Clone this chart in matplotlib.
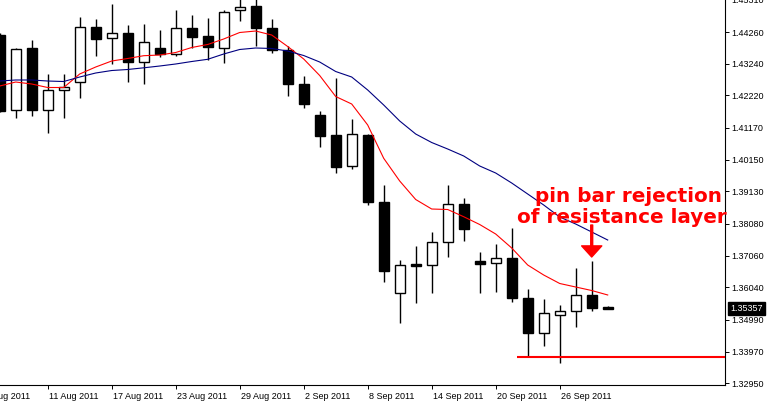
import matplotlib
matplotlib.use("Agg")
import matplotlib.pyplot as plt
from matplotlib.transforms import blended_transform_factory, ScaledTranslation

# ---------------- data (daily EURUSD-style candles) ----------------
opens = [1.44163, 1.41748, 1.43745, 1.41748, 1.42392, 1.42650, 1.44421, 1.44067,
         1.44228, 1.43294, 1.43745, 1.43552, 1.44389, 1.44131, 1.43745, 1.44968,
         1.45097, 1.44389, 1.43680, 1.42586, 1.41587, 1.40943, 1.39945, 1.40943,
         1.38796, 1.35846, 1.36780, 1.36748, 1.37489, 1.38722, 1.36886, 1.36812,
         1.36973, 1.35685, 1.34558, 1.35138, 1.35286, 1.35791, 1.35415]
highs = [1.44228, 1.43745, 1.44002, 1.42908, 1.42908, 1.44743, 1.44679, 1.45162,
         1.44485, 1.44518, 1.44324, 1.44968, 1.44807, 1.44711, 1.44968, 1.45355,
         1.45386, 1.44679, 1.43809, 1.42843, 1.41716, 1.42779, 1.41459, 1.40976,
         1.39333, 1.36918, 1.37369, 1.37820, 1.39333, 1.38905, 1.37176, 1.37434,
         1.37939, 1.35975, 1.35653, 1.35469, 1.36670, 1.36886, 1.35447]
lows = [1.41684, 1.41491, 1.41555, 1.41008, 1.41491, 1.42135, 1.43487, 1.43230,
        1.42650, 1.42586, 1.43455, 1.43487, 1.43745, 1.43358, 1.43262, 1.44614,
        1.43809, 1.43584, 1.42199, 1.41813, 1.40557, 1.39720, 1.39849, 1.38689,
        1.36220, 1.34899, 1.35543, 1.35866, 1.37005, 1.37521, 1.35846, 1.35898,
        1.35576, 1.33805, 1.34159, 1.33592, 1.34751, 1.35286, 1.35331]
closes = [1.41726, 1.43713, 1.41748, 1.42392, 1.42489, 1.44421, 1.44035, 1.44228,
          1.43294, 1.43938, 1.43552, 1.44389, 1.44099, 1.43777, 1.44904, 1.45065,
          1.44389, 1.43680, 1.42586, 1.41942, 1.40911, 1.39913, 1.40976, 1.38786,
          1.36574, 1.36748, 1.36735, 1.37489, 1.38712, 1.37926, 1.36780, 1.36973,
          1.35685, 1.34558, 1.35202, 1.35286, 1.35791, 1.35382, 1.35357]

ma_fast = [1.42521, 1.42650, 1.42586, 1.42473, 1.42473, 1.42908, 1.43133, 1.43326,
           1.43407, 1.43497, 1.43519, 1.43600, 1.43761, 1.43858, 1.44035, 1.44244,
           1.44292, 1.44163, 1.43793, 1.43391, 1.42859, 1.42183, 1.41942, 1.41266,
           1.40194, 1.39463, 1.38867, 1.38561, 1.38545, 1.38313, 1.38062, 1.37756,
           1.37306, 1.36758, 1.36436, 1.36163, 1.36050, 1.35937, 1.35793]
ma_slow = [1.42682, 1.42715, 1.42715, 1.42682, 1.42666, 1.42811, 1.42940, 1.43020,
           1.43053, 1.43107, 1.43165, 1.43230, 1.43310, 1.43381, 1.43552, 1.43697,
           1.43745, 1.43729, 1.43648, 1.43503, 1.43294, 1.42988, 1.42811, 1.42393,
           1.41910, 1.41395, 1.40976, 1.40702, 1.40493, 1.40268, 1.39946, 1.39720,
           1.39398, 1.39044, 1.38690, 1.38304, 1.38078, 1.37821, 1.37563]

ytick_values = [1.45310, 1.44260, 1.43240, 1.42220, 1.41170, 1.40150, 1.39130,
                1.38080, 1.37060, 1.36040, 1.34990, 1.33970, 1.32950]
date_labels = ["5 Aug 2011", "11 Aug 2011", "17 Aug 2011", "23 Aug 2011", "29 Aug 2011",
               "2 Sep 2011", "8 Sep 2011", "14 Sep 2011", "20 Sep 2011", "26 Sep 2011"]
date_idx = [-1, 3, 7, 11, 15, 19, 23, 27, 31, 35]

support_level = 1.33805
support_start = 32.3
pin_idx = 37
last_price = 1.35357
note_lines = ["pin bar rejection", "of resistance layer"]

# ---------------- figure ----------------
plt.rcParams['font.family'] = ['Liberation Sans', 'DejaVu Sans']
fig = plt.figure(figsize=(7.67, 4.03), dpi=100)
ax = fig.add_axes([0, 18 / 403, 725 / 767, 388 / 403])
ax.set_xlim(0.02, 45.33)
ax.set_ylim(1.32895, 1.45387)

n = len(opens)
xs = list(range(n))

# wicks
ax.vlines(xs, lows, highs, color='black', linewidth=1.0, zorder=2)
# bodies
for i in xs:
    o, c = opens[i], closes[i]
    bull = c >= o
    ax.bar(i, abs(c - o), bottom=min(o, c), width=0.62,
           color='white' if bull else 'black', edgecolor='black',
           linewidth=1.0, zorder=3)

# moving averages
ax.plot(xs, ma_fast, color='#ff0000', linewidth=0.8, zorder=4)
ax.plot(xs, ma_slow, color='#000080', linewidth=0.8, zorder=4)

# support line
ax.hlines(support_level, support_start, 45.33, color='#ff0000', linewidth=1.5, zorder=5)

# pin-bar arrow
ax.annotate('', xy=(pin_idx, highs[pin_idx] + 0.0013), xytext=(pin_idx, highs[pin_idx] + 0.0116),
            arrowprops=dict(facecolor='#ff0000', edgecolor='#ff0000', width=1.4,
                            headwidth=14.5, headlength=8, shrink=0), zorder=6)

ax.text(39.3, 1.38777, note_lines[0], color='#ff0000', fontsize=14.4, fontweight='bold',
        family='DejaVu Sans', ha='center', va='baseline', zorder=7, clip_on=False)
ax.text(38.9, 1.38101, note_lines[1], color='#ff0000', fontsize=14.4, fontweight='bold',
        family='DejaVu Sans', ha='center', va='baseline', zorder=7, clip_on=False)

# spines
for s in ['top', 'left']:
    ax.spines[s].set_visible(False)
for s in ['right', 'bottom']:
    ax.spines[s].set_color('black')
    ax.spines[s].set_linewidth(0.8)

# y axis on right
ax.yaxis.tick_right()
ax.set_yticks(ytick_values)
ax.set_yticklabels([f"{v:.5f}" for v in ytick_values])
ax.tick_params(axis='y', direction='out', length=3, width=0.7, pad=1.5,
               labelsize=6.5, colors='black')

# x axis ticks (marks only) + left aligned labels
ax.set_xticks([d for d in date_idx if d >= 0])
ax.set_xticklabels([])
ax.tick_params(axis='x', direction='out', length=3, width=0.7)
trans = blended_transform_factory(ax.transData, ax.transAxes) + \
    ScaledTranslation(0.01, -0.14, fig.dpi_scale_trans)
for d, lab in zip(date_idx, date_labels):
    ax.text(d, 0, lab, transform=trans, ha='left', va='baseline', fontsize=6.5,
            color='black', clip_on=False)

# current price box
tb = blended_transform_factory(ax.transAxes, ax.transData)
ax.text(1.0075, last_price, f"{last_price:.5f}", transform=tb, ha='left', va='center',
        fontsize=6.5, color='white', clip_on=False, zorder=8,
        bbox=dict(boxstyle='square,pad=0.25', fc='black', ec='black'))

fig.savefig('out.png', dpi=100, facecolor='white')
